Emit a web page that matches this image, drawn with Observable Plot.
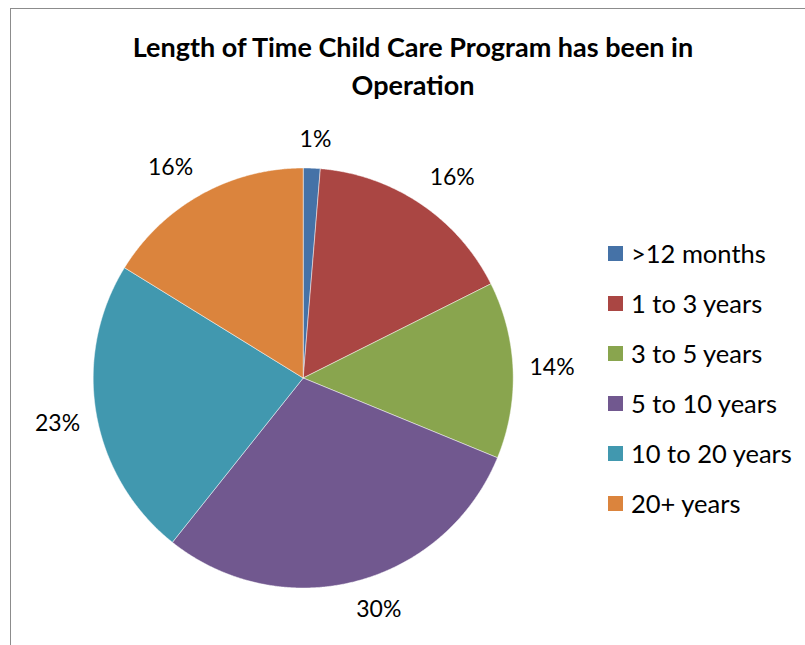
<!DOCTYPE html>
<html><head><meta charset="utf-8">
<script src="https://cdn.jsdelivr.net/npm/d3@7"></script>
<script src="https://cdn.jsdelivr.net/npm/@observablehq/plot@0.6"></script>
<style>
body{margin:0;background:#fff;font-family:Lato,"Open Sans",sans-serif;color:#000;}
#wrap{position:relative;width:805px;height:645px;overflow:hidden;background:#fff;}
#frame{position:absolute;left:10px;top:8px;width:820px;height:660px;border-left:1.5px solid #8c8c8c;border-top:1.5px solid #8c8c8c;}
#title{position:absolute;left:0;top:28px;width:826px;text-align:center;font-weight:bold;font-size:27px;line-height:38px;}
#chart{position:absolute;left:0;top:110px;}
#legend{position:absolute;left:608px;top:228px;}
.row{display:flex;align-items:center;height:50px;font-size:25.5px;}
.sw{width:15px;height:15px;margin-right:8px;flex:none;}
</style></head>
<body>
<div id="wrap">
  <div id="frame"></div>
  <div id="title">Length of Time Child Care Program has been in<br>Operation</div>
  <div id="chart"></div>
  <div id="legend"></div>
</div>
<script>
const categories = [">12 months", "1 to 3 years", "3 to 5 years", "5 to 10 years", "10 to 20 years", "20+ years"];
const values = [1.3, 16.3, 13.6, 29.5, 23.1, 16.2];
const colors = ["#4572A7", "#AA4643", "#89A54E", "#71588F", "#4198AF", "#DB843D"];
const labels = values.map(v => Math.round(v) + "%");

const pie = d3.pie().sort(null).value(d => d)(values);
const poly = [];
pie.forEach((p, i) => {
  const cat = categories[i];
  poly.push({cat, x: 0, y: 0});
  const n = Math.max(2, Math.ceil((p.endAngle - p.startAngle) / 0.005));
  for (let k = 0; k <= n; k++) {
    const a = p.startAngle + (p.endAngle - p.startAngle) * k / n;
    poly.push({cat, x: Math.sin(a), y: Math.cos(a)});
  }
  poly.push({cat, x: 0, y: 0});
});

const W = 590, H = 535, cx = 302.7, cy = 267.5, R = 210;
// outside-end labels: label box placed against a ring just outside the pie
const ring = 227, boxW = 44, boxH = 24, k = 0.3;
const labelPts = pie.map((p, i) => {
  const a = (p.startAngle + p.endAngle) / 2;
  const s = Math.sin(a), c = Math.cos(a);
  const ox = Math.sign(s) * Math.min(1, Math.abs(s) / k) * boxW / 2;
  const oy = Math.sign(c) * Math.min(1, Math.abs(c) / k) * boxH / 2;
  return {label: labels[i], x: (ring * s + ox) / R, y: (ring * c + oy) / R};
});

const chart = Plot.plot({
  width: W, height: H,
  marginLeft: 0, marginRight: 0, marginTop: 0, marginBottom: 0,
  style: {fontFamily: "Lato, 'Open Sans', sans-serif", background: "transparent"},
  x: {domain: [-cx / R, (W - cx) / R], range: [0, W], axis: null},
  y: {domain: [-(H - cy) / R, cy / R], range: [H, 0], axis: null},
  color: {domain: categories, range: colors},
  marks: [
    Plot.line(poly, {x: "x", y: "y", z: "cat", fill: "cat", stroke: "#ffffff", strokeWidth: 0.8, strokeOpacity: 0.6, curve: "linear"}),
    Plot.text(labelPts, {x: "x", y: "y", text: "label", fontSize: 23, fill: "#000"})
  ]
});
document.getElementById("chart").appendChild(chart);

const legend = document.getElementById("legend");
categories.forEach((c, i) => {
  const row = document.createElement("div");
  row.className = "row";
  const sw = document.createElement("div");
  sw.className = "sw";
  sw.style.background = colors[i];
  const t = document.createElement("span");
  t.textContent = c;
  row.appendChild(sw); row.appendChild(t);
  legend.appendChild(row);
});
</script>
</body></html>
